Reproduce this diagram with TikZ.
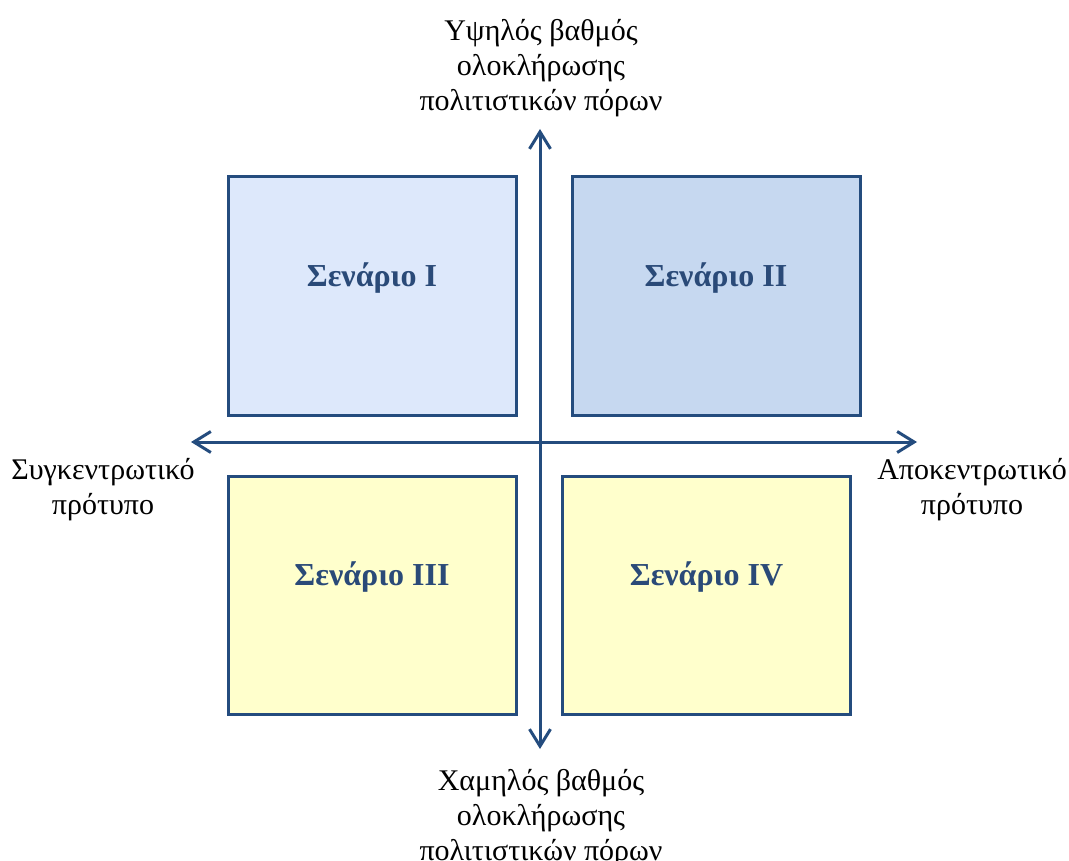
\documentclass[tikz,border=0pt]{standalone}
\usepackage{fontspec}
\setmainfont{Liberation Serif}
\usetikzlibrary{arrows.meta}
\definecolor{axisblue}{HTML}{244C7E}
\definecolor{boxone}{HTML}{DDE8FB}
\definecolor{boxtwo}{HTML}{C6D8F0}
\definecolor{boxyel}{HTML}{FFFFCC}
\definecolor{txtblue}{HTML}{2A4A78}
\begin{document}
\begin{tikzpicture}[x=1pt,y=-1pt,
  quad/.style={draw=axisblue,line width=3pt,minimum width=288pt,minimum height=238pt,inner sep=0pt},
  qlab/.style={font=\fontsize{32}{36}\selectfont\bfseries,text=txtblue,inner sep=0pt},
  axis/.style={draw=axisblue,line width=3pt,-{Straight Barb[length=17pt,width=21pt,line width=3pt]}},
  lab/.style={align=center,font=\fontsize{30}{35}\selectfont,inner sep=0pt}]
\useasboundingbox (0,0) rectangle (1069,861);
\node[quad,fill=boxone] (s1) at (372,296) {};
\node[quad,fill=boxtwo] (s2) at (716,296) {};
\node[quad,fill=boxyel] (s3) at (372,595.5) {};
\node[quad,fill=boxyel] (s4) at (706.5,595.5) {};
\node[qlab] (t1) at ([yshift=18pt]s1.center) {Σενάριο I};
\node[qlab] (t2) at ([yshift=18pt]s2.center) {Σενάριο II};
\node[qlab] (t3) at ([yshift=18pt]s3.center) {Σενάριο III};
\node[qlab] (t4) at ([yshift=18pt]s4.center) {Σενάριο IV};
\coordinate (c) at (540,442);
\coordinate (top) at (540,129);
\coordinate (bot) at (540,749);
\coordinate (lft) at (191,442);
\coordinate (rgt) at (917,442);
\draw[axis] (c) -- (top);
\draw[axis] (c) -- (bot);
\draw[axis] (c) -- (lft);
\draw[axis] (c) -- (rgt);
\node[lab,anchor=base] (tl) at (541,111) {Υψηλός βαθμός\\ολοκλήρωσης\\πολιτιστικών πόρων};
\node[lab,anchor=base] (bl) at (541,860) {Χαμηλός βαθμός\\ολοκλήρωσης\\πολιτιστικών πόρων};
\node[lab,anchor=base] (ll) at (103,514) {Συγκεντρωτικό\\πρότυπο};
\node[lab,anchor=base] (rl) at (972,514) {Αποκεντρωτικό\\πρότυπο};
\end{tikzpicture}
\end{document}
